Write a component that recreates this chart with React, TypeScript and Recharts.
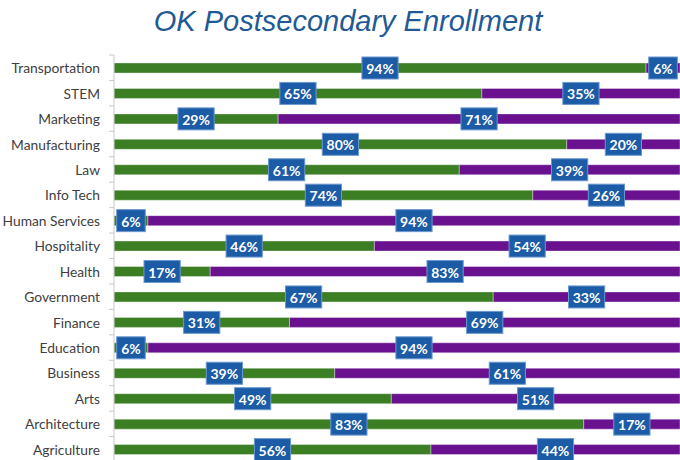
import React from 'react';
import { BarChart, Bar, XAxis, YAxis, LabelList } from 'recharts';

const categories = [
  'Transportation', 'STEM', 'Marketing', 'Manufacturing', 'Law', 'Info Tech',
  'Human Services', 'Hospitality', 'Health', 'Government', 'Finance',
  'Education', 'Business', 'Arts', 'Architecture', 'Agriculture',
];
const greenValues = [94, 65, 29, 80, 61, 74, 6, 46, 17, 67, 31, 6, 39, 49, 83, 56];
const purpleValues = [6, 35, 71, 20, 39, 26, 94, 54, 83, 33, 69, 94, 61, 51, 17, 44];

const data = categories.map((name, i) => ({
  name,
  green: greenValues[i],
  purple: purpleValues[i],
}));

const GREEN = '#3b7e23';
const PURPLE = '#6a1190';
const BOX = '#1c5ba6';
const AXIS_X = 114;
const TOP = 55;
const CHART_H = 462;
const BAND = (CHART_H - TOP) / categories.length;

// blue box label centered on each segment
const BoxLabel = (props: any) => {
  const { x, y, width, height, value } = props;
  const text = `${value}%`;
  const w = String(value).length * 7.6 + 11 + 10;
  const h = 22;
  const cx = x + width / 2;
  const cy = y + height / 2;
  return (
    <g>
      <rect x={cx - w / 2} y={cy - h / 2} width={w} height={h} fill={BOX} stroke="#6a98cf" strokeWidth={1} />
      <text x={cx} y={cy + 0.5} textAnchor="middle" dominantBaseline="central" fill="#ffffff"
        fontFamily="Lato, sans-serif" fontWeight="bold" fontSize={14}>
        {text}
      </text>
    </g>
  );
};

const CategoryTick = (props: any) => {
  const { y, payload, index } = props;
  return (
    <g>
      <text x={100} y={y} textAnchor="end" dominantBaseline="central" fill="#404040"
        fontFamily="Lato, sans-serif" fontSize={13.8}>
        {payload.value}
      </text>
      {index === 0 && (
        <line x1={AXIS_X - 5} x2={AXIS_X} y1={y - BAND / 2} y2={y - BAND / 2} stroke="#c8c8c8" />
      )}
      <line x1={AXIS_X - 5} x2={AXIS_X} y1={y + BAND / 2} y2={y + BAND / 2} stroke="#c8c8c8" />
    </g>
  );
};

export default function App() {
  return (
    <div style={{ position: 'absolute', left: 0, top: 0, width: 680, height: 460, overflow: 'hidden', background: '#fff' }}>
      <BarChart
        width={680}
        height={CHART_H}
        data={data}
        layout="vertical"
        margin={{ top: TOP, right: 0, bottom: 0, left: 0 }}
        barCategoryGap={0}
      >
        <XAxis type="number" domain={[0, 100]} hide />
        <YAxis
          type="category"
          dataKey="name"
          width={AXIS_X}
          axisLine={{ stroke: '#c8c8c8' }}
          tickLine={false}
          tick={<CategoryTick />}
          interval={0}
        />
        <Bar dataKey="green" stackId="a" fill={GREEN} barSize={10} isAnimationActive={false}
          stroke="#ffffff" strokeOpacity={0.45} strokeWidth={0.8}>
          <LabelList dataKey="green" content={<BoxLabel />} />
        </Bar>
        <Bar dataKey="purple" stackId="a" fill={PURPLE} barSize={10} isAnimationActive={false}
          stroke="#ffffff" strokeOpacity={0.45} strokeWidth={0.8}>
          <LabelList dataKey="purple" content={<BoxLabel />} />
        </Bar>
      </BarChart>
      <svg width={680} height={60} style={{ position: 'absolute', left: 0, top: 0, pointerEvents: 'none' }}>
        <text x={348} y={31} textAnchor="middle" fill="#1f5a97" fontStyle="italic"
          fontFamily="'Liberation Sans', Arial, sans-serif" fontSize={29}>
          OK Postsecondary Enrollment
        </text>
      </svg>
    </div>
  );
}
